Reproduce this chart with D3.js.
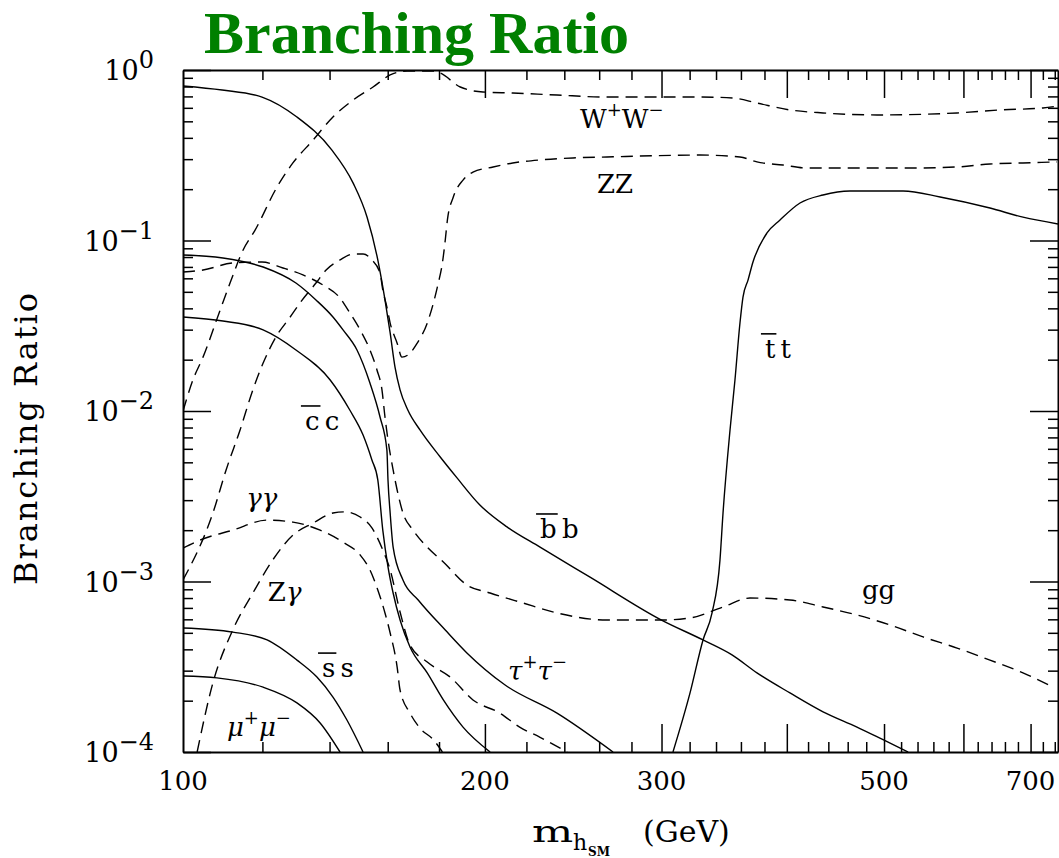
<!DOCTYPE html>
<html lang="en">

<head>
  <meta charset='utf-8'>
  <title>Branching Ratio</title>
  <script src='https://cdn.jsdelivr.net/npm/d3@7/dist/d3.min.js'></script>
  <style>
    body {
      margin: 0;
      background: #fff;
    }

    svg {
      display: block;
    }

    /* Frame and ticks. */

    .axis path {
      fill: none;
      stroke: #000;
      stroke-width: 2px;
    }

    .axis line {
      stroke: #000;
      stroke-width: 1.5px;
    }

    .curve {
      fill: none;
      stroke: #000;
      stroke-width: 1.4px;
    }

    .dashed {
      stroke-dasharray: 12, 7;
    }

    text {
      font-family: 'DejaVu Serif', serif;
      fill: #000;
    }
  </style>
</head>

<body>
  <div id='chart'></div>
  <script>
    // Branching ratios, as [Higgs mass (GeV), BR].

    var bbbar = [[100, 0.806], [109.4, 0.763], [119.9, 0.694], [129.9, 0.530], [140.7, 0.340], [147.8, 0.217],
      [152.6, 0.137], [156.4, 0.0769], [159.0, 0.0448], [160.9, 0.0287], [162.7, 0.0181], [164.6, 0.0133],
      [167.6, 0.0101], [172.3, 0.00774], [180.5, 0.00537], [187.6, 0.00405], [197.7, 0.00281], [210.4, 0.00209],
      [227.0, 0.00159], [254.6, 0.00106], [300, 0.000594], [330, 0.000454], [352.7, 0.000371], [373.5, 0.000291],
      [402.9, 0.000222], [434.7, 0.000172], [469.9, 0.000140], [498.9, 0.000118], [528.4, 0.0001]];

    var tautau = [[100, 0.0822], [109.6, 0.0789], [120.2, 0.0699], [129.6, 0.0563], [135.7, 0.0448], [141.1, 0.0356],
      [144.4, 0.0299], [149.1, 0.0228], [153.6, 0.0146], [157.2, 0.00922], [159.7, 0.00590], [160.1, 0.00394],
      [160.9, 0.00252], [162.0, 0.00159], [165.7, 0.00102], [171.6, 0.000779], [182.6, 0.000519], [191.9, 0.000381],
      [209.5, 0.000247], [236.0, 0.000169], [268.4, 0.0001]];

    var ccbar = [[100, 0.0356], [109.6, 0.0337], [120.2, 0.0299], [129.6, 0.0228], [140.2, 0.0152], [146.7, 0.0101],
      [151.2, 0.00723], [154.3, 0.00516], [156.4, 0.00394], [158.2, 0.00200], [160.1, 0.00122], [162.0, 0.000856],
      [164.6, 0.000594], [168.4, 0.000413], [175.2, 0.000291], [181.8, 0.000202], [190.2, 0.000140], [202.4, 0.0001]];

    var ssbar = [[100, 0.000534], [112.1, 0.000505], [121.3, 0.000454], [129.9, 0.000346], [136.0, 0.000275],
      [141.1, 0.000210], [145.7, 0.000154], [151.2, 0.0001]];

    var mumu = [[100, 0.000279], [108.1, 0.000272], [120.2, 0.000240], [129.9, 0.000194], [137.0, 0.000148],
      [143.4, 0.0001]];

    var ttbar = [[308.0, 0.0001], [320.3, 0.000222], [330.0, 0.000454], [336.9, 0.000654], [343.1, 0.00134],
      [345.5, 0.00252], [351.1, 0.00774], [355.1, 0.0152], [359.2, 0.0328], [361.7, 0.0466], [365.9, 0.0586],
      [370.1, 0.0748], [382.2, 0.1107], [393.8, 0.132], [412.3, 0.166], [434.7, 0.185], [462.4, 0.195],
      [522.4, 0.195], [568.7, 0.180], [637.7, 0.155], [687.9, 0.137], [745.5, 0.125]];

    var ww = [[100, 0.0100], [102.3, 0.0152], [104.7, 0.0207], [108.9, 0.0391], [111.4, 0.0563], [114.8, 0.0880],
      [118.0, 0.115], [124.1, 0.206], [128.7, 0.285], [134.8, 0.388], [141.1, 0.530], [147.8, 0.667],
      [154.7, 0.795], [160.9, 0.935], [167.3, 0.987], [177.7, 0.987], [180.5, 0.960], [189.0, 0.795],
      [199.1, 0.743], [213.2, 0.733], [236.0, 0.713], [264.7, 0.694], [327.8, 0.694], [353.5, 0.685],
      [373.5, 0.640], [402.9, 0.583], [434.7, 0.560], [492.0, 0.545], [591.3, 0.560], [652.5, 0.583],
      [720.2, 0.599], [745.5, 0.615]];

    var zz = [[100, 0.00102], [107.1, 0.00252], [110.4, 0.00451], [114.0, 0.00774], [117.4, 0.0133], [120.2, 0.0191],
      [123.8, 0.0272], [127.9, 0.0356], [130.8, 0.0430], [135.7, 0.0563], [138.9, 0.0671], [143.4, 0.0769],
      [147.8, 0.0833], [151.2, 0.0833], [154.3, 0.0769], [157.2, 0.0645], [158.2, 0.0512], [159.7, 0.0407],
      [160.9, 0.0328], [163.5, 0.0250], [165.3, 0.0207], [167.6, 0.0213], [171.2, 0.0250], [175.2, 0.0328],
      [177.7, 0.0430], [179.7, 0.0563], [181.4, 0.0738], [182.6, 0.1007], [183.5, 0.132], [186.0, 0.180],
      [190.2, 0.226], [194.6, 0.252], [203.8, 0.270], [213.2, 0.285], [227.0, 0.297], [244.8, 0.305],
      [264.7, 0.309], [327.8, 0.317], [359.2, 0.309], [373.5, 0.289], [396.5, 0.277], [419.0, 0.266],
      [469.9, 0.266], [527.2, 0.266], [591.3, 0.270], [637.7, 0.281], [687.9, 0.285], [743.8, 0.289]];

    var gg = [[100, 0.0653], [104.7, 0.0671], [112.1, 0.0738], [119.9, 0.0748], [125.8, 0.0690], [131.7, 0.0628],
      [137.9, 0.0548], [143.4, 0.0460], [146.7, 0.0376], [150.2, 0.0299], [153.6, 0.0228], [156.1, 0.0174],
      [157.9, 0.0133], [159.0, 0.00922], [160.1, 0.00676], [162.0, 0.00451], [163.5, 0.00344], [165.7, 0.00252],
      [169.6, 0.00200], [175.2, 0.00159], [181.8, 0.00130], [191.9, 0.000954], [202.4, 0.000856],
      [218.3, 0.000748], [236.0, 0.000654], [264.7, 0.000594], [299.0, 0.000594], [320.3, 0.000611],
      [345.5, 0.000709], [367.6, 0.000800], [402.9, 0.000779], [434.7, 0.000709], [469.9, 0.000636],
      [507.0, 0.000556], [546.9, 0.000473], [591.3, 0.000407], [637.7, 0.000346], [687.9, 0.000291],
      [737.0, 0.000240]];

    var gammagamma = [[100, 0.00157], [104.0, 0.00175], [112.1, 0.00200], [121.3, 0.00229], [128.7, 0.00223],
      [137.0, 0.00200], [144.4, 0.00170], [150.2, 0.00143], [153.6, 0.00117], [156.4, 0.000892], [159.0, 0.000654],
      [160.9, 0.000499], [163.5, 0.000315], [164.6, 0.000231], [168.4, 0.000169], [172.3, 0.000138],
      [177.7, 0.000118], [181.4, 0.0001]];

    var zgamma = [[103.3, 0.0001], [107.1, 0.000254], [112.1, 0.000519], [117.4, 0.000856], [122.9, 0.00134],
      [128.7, 0.00187], [134.8, 0.00220], [141.1, 0.00252], [145.0, 0.00256], [150.2, 0.00239], [154.3, 0.00206],
      [158.2, 0.00153], [160.9, 0.00117], [164.6, 0.000662], [168.4, 0.000424], [175.2, 0.000337],
      [184.7, 0.000275], [194.6, 0.000202], [207.0, 0.000169], [216.6, 0.000140], [227.0, 0.000122],
      [241.5, 0.0001]];

    // Tick values and labels.

    var xMajor = [200, 300, 400, 500, 600, 700];
    var xMinor = [120, 140, 160, 180, 220, 240, 260, 280, 320, 340, 360, 380, 420, 440, 460, 480,
      520, 540, 560, 580, 620, 640, 660, 680, 720, 740];
    var xLabels = [100, 200, 300, 500, 700];
    var yExponents = [0, -1, -2, -3, -4];

    // Curve labels: anchor in data units, then pieces of text.

    var labels = [
      { m: 248.8, br: 0.457, parts: [['W'], ['+', 'sup'], ['W'], ['\u2212', 'sup']] },
      { m: 258.7, br: 0.190, parts: [['ZZ']] },
      { m: 380.4, br: 0.0205, parts: [['t', 'bar'], ['\u2009t']] },
      { m: 227.0, br: 0.00180, parts: [['b', 'bar'], ['\u2009b']] },
      { m: 132.3, br: 0.00774, parts: [['c', 'bar'], ['\u2009c']] },
      { m: 115.6, br: 0.00274, parts: [['\u03b3\u03b3', 'it']] },
      { m: 121.5, br: 0.000769, parts: [['Z'], ['\u03b3', 'it']] },
      { m: 137.6, br: 0.000275, parts: [['s', 'bar'], ['\u2009s']] },
      { m: 110.6, br: 0.000124, parts: [['\u03bc', 'it'], ['+', 'sup'], ['\u03bc', 'it'], ['\u2212', 'sup']] },
      { m: 210.9, br: 0.000264, parts: [['\u03c4', 'it'], ['+', 'sup'], ['\u03c4', 'it'], ['\u2212', 'sup']] },
      { m: 475.3, br: 0.000789, parts: [['gg']] }
    ];

    var curves = [
      { key: 'bb', data: bbbar, dashed: false },
      { key: 'tautau', data: tautau, dashed: false },
      { key: 'cc', data: ccbar, dashed: false },
      { key: 'ss', data: ssbar, dashed: false },
      { key: 'mumu', data: mumu, dashed: false },
      { key: 'tt', data: ttbar, dashed: false },
      { key: 'WW', data: ww, dashed: true },
      { key: 'ZZ', data: zz, dashed: true },
      { key: 'gg', data: gg, dashed: true },
      { key: 'gamgam', data: gammagamma, dashed: true },
      { key: 'Zgam', data: zgamma, dashed: true }
    ];

    var width = 1059,
      height = 858;

    var margin = {
      top: 70,
      right: 1,
      bottom: 106,
      left: 183
    };

    var svg = d3.select('#chart')
      .append('svg')
      .attr('width', width)
      .attr('height', height);

    svg.append('rect')
      .attr('width', width)
      .attr('height', height)
      .attr('fill', '#fff');

    var w = width - margin.left - margin.right,
      h = height - margin.top - margin.bottom;

    var g = svg.append('g')
      .attr('transform', 'translate(' + margin.left + ',' + margin.top + ')');

    // Log scales on both axes.

    var xScale = d3.scaleLog()
      .domain([100, 745.5])
      .range([0, w]);

    var yScale = d3.scaleLog()
      .domain([1e-4, 1])
      .range([h, 0]);

    var yMajor = yExponents.map(function(e) {
      return Math.pow(10, e);
    });

    var yMinor = [];
    [-4, -3, -2, -1].forEach(function(e) {
      for (var k = 2; k <= 9; k++) yMinor.push(k * Math.pow(10, e));
    });

    // Frame with inward ticks on all four sides.

    function addAxis(axis, tx, ty, keepDomain) {
      var a = g.append('g')
        .attr('class', 'axis')
        .attr('transform', 'translate(' + tx + ',' + ty + ')')
        .call(axis.tickSizeOuter(0).tickFormat(''));
      if (!keepDomain) a.select('.domain').remove();
      a.selectAll('text').remove();
    }

    addAxis(d3.axisBottom(xScale).tickValues(xMinor).tickSizeInner(-10), 0, h, false);
    addAxis(d3.axisBottom(xScale).tickValues(xMajor).tickSizeInner(-28), 0, h, true);
    addAxis(d3.axisTop(xScale).tickValues(xMinor).tickSizeInner(-10), 0, 0, false);
    addAxis(d3.axisTop(xScale).tickValues(xMajor).tickSizeInner(-28), 0, 0, true);
    addAxis(d3.axisLeft(yScale).tickValues(yMinor).tickSizeInner(-10), 0, 0, false);
    addAxis(d3.axisLeft(yScale).tickValues(yMajor).tickSizeInner(-28), 0, 0, true);
    addAxis(d3.axisRight(yScale).tickValues(yMinor).tickSizeInner(-10), w, 0, false);
    addAxis(d3.axisRight(yScale).tickValues(yMajor).tickSizeInner(-28), w, 0, true);

    // Tick labels.

    g.append('g')
      .selectAll('text')
      .data(xLabels)
      .enter()
      .append('text')
      .attr('x', function(d) {
        return xScale(d);
      })
      .attr('y', h + 38)
      .attr('text-anchor', 'middle')
      .style('font-size', '26px')
      .text(function(d) {
        return d;
      });

    var yLab = g.append('g')
      .selectAll('text')
      .data(yExponents)
      .enter()
      .append('text')
      .attr('x', -29)
      .attr('y', function(d) {
        return yScale(Math.pow(10, d)) + 10;
      })
      .attr('text-anchor', 'end');

    yLab.append('tspan')
      .style('font-size', '27px')
      .text('10');

    yLab.append('tspan')
      .attr('dy', -12)
      .style('font-size', '24px')
      .text(function(d) {
        return d < 0 ? '\u2212' + (-d) : '' + d;
      });

    // Curves.

    g.append('clipPath')
      .attr('id', 'plotclip')
      .append('rect')
      .attr('width', w)
      .attr('height', h);

    var line = d3.line()
      .x(function(d) {
        return xScale(d[0]);
      })
      .y(function(d) {
        return yScale(d[1]);
      })
      .curve(d3.curveMonotoneX);

    g.append('g')
      .attr('clip-path', 'url(#plotclip)')
      .selectAll('path')
      .data(curves)
      .enter()
      .append('path')
      .attr('class', function(d) {
        return d.dashed ? 'curve dashed' : 'curve';
      })
      .attr('d', function(d) {
        return line(d.data);
      });

    // Curve labels, with raised signs and bars over the antiparticle.

    labels.forEach(function(lab) {
      var t = g.append('text')
        .attr('x', xScale(lab.m))
        .attr('y', yScale(lab.br))
        .style('font-size', '26px');
      var shift = 0;
      lab.parts.forEach(function(p) {
        var target = p[1] === 'sup' ? -12 : 0;
        var s = t.append('tspan')
          .attr('dy', target - shift)
          .text(p[0]);
        shift = target;
        if (p[1] === 'sup') s.style('font-size', '18px');
        if (p[1] === 'it') s.style('font-style', 'italic');
      });
      if (lab.parts[0][1] === 'bar') {
        var box = t.node().getExtentOfChar(0);
        g.append('line')
          .attr('x1', box.x - 4)
          .attr('x2', box.x + box.width + 1)
          .attr('y1', box.y)
          .attr('y2', box.y)
          .attr('stroke', '#000')
          .attr('stroke-width', 1.6);
      }
    });

    // Axis titles.

    svg.append('text')
      .attr('transform', 'translate(37,439) rotate(-90)')
      .attr('text-anchor', 'middle')
      .attr('textLength', 292)
      .attr('lengthAdjust', 'spacing')
      .style('font-size', '32px')
      .text('Branching Ratio');

    // The m is drawn wide, as in the original typeface.
    svg.append('text')
      .attr('transform', 'translate(532,842) scale(1.45,1)')
      .style('font-size', '30px')
      .text('m');

    var xt = svg.append('text')
      .attr('y', 842)
      .style('font-size', '30px');

    xt.append('tspan').attr('x', 573).attr('dy', 8).style('font-size', '22px').text('h');
    xt.append('tspan').attr('x', 588).attr('dy', 6).style('font-size', '12px').style('font-weight', 'bold').text('SM');
    xt.append('tspan').attr('x', 643).attr('dy', -14).text('(GeV)');

    // Green heading.

    svg.append('text')
      .attr('x', 204)
      .attr('y', 53)
      .style('font-family', "'Liberation Serif', 'Times New Roman', serif")
      .style('font-weight', 'bold')
      .style('font-size', '60px')
      .style('fill', '#008000')
      .text('Branching Ratio');
  </script>
</body>

</html>
